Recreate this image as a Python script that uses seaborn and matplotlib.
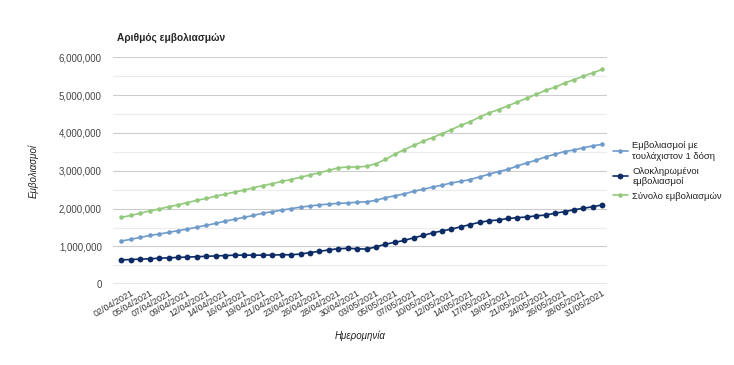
#Gráfico: Αριθμός εμβολιασμών (Απρίλιος - Μάιος 2021)

import numpy as np
import pandas as pd
import matplotlib
matplotlib.use('Agg')
import matplotlib.pyplot as plt
import matplotlib.ticker as mticker
from matplotlib.transforms import ScaledTranslation
import seaborn as sns

#Datas: segunda a sábado, de 01/04 a 31/05
datas = pd.bdate_range('2021-04-01', '2021-05-31', freq='C', weekmask='Mon Tue Wed Thu Fri Sat')

#Valores em milhões
pelo_menos_1_dose = [1.145, 1.19, 1.24, 1.29, 1.33, 1.37, 1.42, 1.46, 1.51, 1.56, 1.61, 1.67,
                     1.72, 1.77, 1.82, 1.88, 1.92, 1.96, 2.00, 2.04, 2.07, 2.10, 2.12, 2.14,
                     2.15, 2.17, 2.18, 2.22, 2.29, 2.34, 2.39, 2.46, 2.51, 2.57, 2.62, 2.68,
                     2.72, 2.77, 2.84, 2.91, 2.98, 3.04, 3.13, 3.21, 3.28, 3.37, 3.44, 3.51,
                     3.55, 3.61, 3.66, 3.70]
completos = [0.645, 0.655, 0.665, 0.675, 0.69, 0.70, 0.71, 0.72, 0.73, 0.74, 0.75, 0.76,
             0.77, 0.77, 0.77, 0.77, 0.775, 0.78, 0.78, 0.80, 0.84, 0.87, 0.91, 0.94,
             0.95, 0.94, 0.93, 0.99, 1.06, 1.11, 1.16, 1.23, 1.29, 1.36, 1.41, 1.46,
             1.52, 1.58, 1.64, 1.68, 1.70, 1.74, 1.76, 1.78, 1.81, 1.83, 1.88, 1.92,
             1.97, 2.01, 2.05, 2.10]
total = [1.77, 1.82, 1.88, 1.94, 1.99, 2.05, 2.10, 2.16, 2.22, 2.27, 2.33, 2.38,
         2.44, 2.49, 2.55, 2.61, 2.66, 2.72, 2.77, 2.83, 2.89, 2.95, 3.01, 3.08,
         3.10, 3.10, 3.12, 3.19, 3.30, 3.44, 3.56, 3.67, 3.78, 3.88, 3.98, 4.09,
         4.20, 4.30, 4.42, 4.53, 4.62, 4.72, 4.82, 4.92, 5.02, 5.13, 5.21, 5.32,
         5.41, 5.50, 5.59, 5.68]

series = ['Εμβολιασμοί με\nτουλάχιστον 1 δόση', 'Ολοκληρωμένοι\nεμβολιασμοί', 'Σύνολο εμβολιασμών']
cores = ['#6f9bcb', '#0d2c66', '#93c97c']

df = pd.DataFrame({'idx': np.arange(len(datas)),
                   series[0]: np.array(pelo_menos_1_dose) * 1e6,
                   series[1]: np.array(completos) * 1e6,
                   series[2]: np.array(total) * 1e6})
df_long = df.melt(id_vars='idx', var_name='serie', value_name='valor')

sns.set_style('white')
plt.rcParams['font.family'] = ['Liberation Sans', 'DejaVu Sans']

fig = plt.figure(figsize=(7.34, 3.65), dpi=100)
ax = fig.add_axes([113/734, 1-284.3/365, (607-113)/734, (284.3-57.3)/365])

sns.lineplot(data=df_long, x='idx', y='valor', hue='serie', hue_order=series,
             palette=cores, marker='o', markersize=3.3, markeredgewidth=0,
             linewidth=1.2, legend=False, ax=ax)
#Linha dos completos tem marcadores maiores
ax.lines[1].set_markersize(4.2)

ax.set_ylim(0, 6e6)
ax.set_xlim(-0.9, 51.5)
ax.yaxis.set_major_locator(mticker.MultipleLocator(1e6))
ax.yaxis.set_minor_locator(mticker.MultipleLocator(5e5))
ax.yaxis.set_major_formatter(mticker.FuncFormatter(lambda v, p: f'{int(v):,}'))
ax.grid(axis='y', which='major', color='#cccccc', linewidth=0.8)
ax.grid(axis='y', which='minor', color='#ececec', linewidth=0.8)
ax.grid(axis='x', visible=False)
ax.set_axisbelow(True)
ax.axhline(0, color='#8a8a8a', linewidth=1.0, zorder=1)
sns.despine(ax=ax, left=True, bottom=True)

ticks = df['idx'][1::2]
ax.set_xticks(ticks)
ax.set_xticklabels([d.strftime('%d/%m/%Y') for d in datas[1::2]], rotation=30,
                   ha='right', va='top', rotation_mode='anchor', fontsize=6.5, color='#333333')
for lab in ax.get_xticklabels():
    lab.set_transform(lab.get_transform() + ScaledTranslation(-6/72, 0, fig.dpi_scale_trans))
ax.tick_params(axis='x', length=0, pad=3)
ax.tick_params(axis='y', length=0, pad=8, labelsize=7, labelcolor='#444444')
ax.tick_params(axis='y', which='minor', length=0)
ax.set_xlabel('')
ax.set_ylabel('')

fig.text(117/734, 1-38/365, 'Αριθμός εμβολιασμών', fontweight='bold', fontsize=7.3, va='center')
fig.text(33/734, 1-171/365, 'Εμβολιασμοί', rotation=90, style='italic', fontsize=7,
         color='#222222', ha='center', va='center')
fig.text(360/734, 1-336/365, 'Ημερομηνία', style='italic', fontsize=7,
         color='#222222', ha='center', va='center')

ax.legend(handles=ax.lines[:3], labels=series, loc='upper left',
          bbox_to_anchor=(604/734, 1-133/365), bbox_transform=fig.transFigure,
          frameon=False, fontsize=6.8, handlelength=1.6, handletextpad=0.5,
          labelspacing=0.6, labelcolor='#222222')

fig.savefig('out.png', dpi=100)
